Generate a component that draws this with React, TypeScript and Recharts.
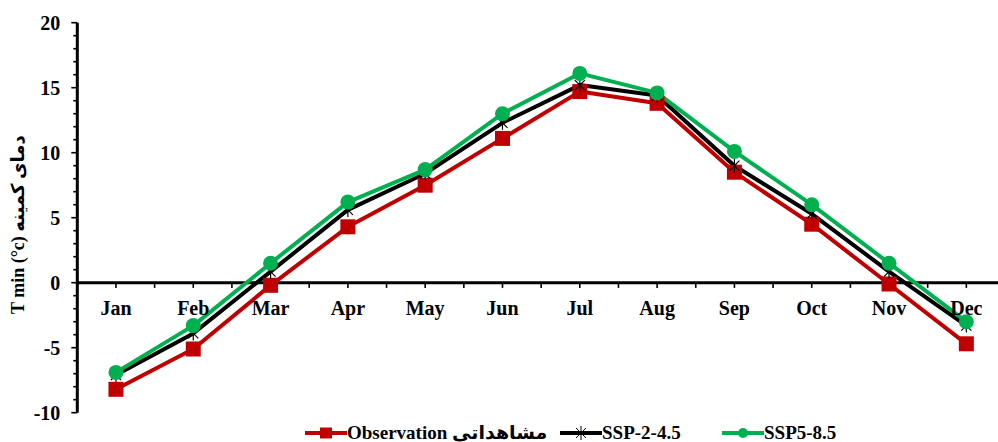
import React from 'react';
import { LineChart, Line, XAxis, YAxis, ReferenceLine, ReferenceDot, Legend } from 'recharts';

const months = ['Jan', 'Feb', 'Mar', 'Apr', 'May', 'Jun', 'Jul', 'Aug', 'Sep', 'Oct', 'Nov', 'Dec'];
const observation = [-8.2, -5.1, -0.2, 4.3, 7.5, 11.1, 14.7, 13.8, 8.5, 4.5, -0.1, -4.7];
const ssp245 = [-7.1, -3.9, 0.85, 5.6, 8.4, 12.3, 15.2, 14.4, 9.0, 5.3, 0.85, -3.3];
const ssp585 = [-6.9, -3.3, 1.5, 6.2, 8.7, 13.0, 16.1, 14.6, 10.1, 6.0, 1.5, -3.0];

const yAllTicks = [-10, -9, -8, -7, -6, -5, -4, -3, -2, -1, 0, 1, 2, 3, 4, 5, 6, 7, 8, 9, 10, 11, 12, 13, 14, 15, 16, 17, 18, 19, 20];
const xTickPositions = [-0.5, 0, 0.5, 1, 1.5, 2, 2.5, 3, 3.5, 4, 4.5, 5, 5.5, 6, 6.5, 7, 7.5, 8, 8.5, 9, 9.5, 10, 10.5, 11, 11.5];

const seriesNames = ['Observation مشاهداتی', 'SSP-2-4.5', 'SSP5-8.5'];
const seriesColors = ['#C00000', '#000000', '#00B050'];
const yAxisTitle = 'T min (°c) دمای کمینه';

const data = months.map((m, i) => ({
  idx: i,
  month: m,
  obs: observation[i],
  ssp245: ssp245[i],
  ssp585: ssp585[i],
}));

const FONT = "'Liberation Serif', 'Times New Roman', 'DejaVu Sans', serif";

const YTick = (props: any) => {
  const { x, y, payload } = props;
  const ax = x + 6;
  const v = Number(payload.value);
  const major = v % 5 === 0;
  return (
    <g>
      <line x1={ax - (major ? 6 : 4)} x2={ax} y1={y} y2={y} stroke="#000" strokeWidth={1.6} />
      {major && (
        <text x={ax - 17} y={y} dy="0.36em" textAnchor="end" fontFamily={FONT} fontWeight="bold" fontSize={20} fill="#000">
          {v}
        </text>
      )}
    </g>
  );
};

const YLabel = (props: any) => {
  const vb = props.viewBox || { x: 0, y: 0, width: 0, height: 0 };
  const cx = 18;
  const cy = vb.y + vb.height / 2 + 7;
  return (
    <text
      x={cx}
      y={cy}
      transform={`rotate(-90 ${cx} ${cy})`}
      textAnchor="middle"
      dominantBaseline="central"
      fontFamily={FONT}
      fontWeight="bold"
      fontSize={18}
      fill="#000"
    >
      {yAxisTitle}
    </text>
  );
};

const SquareDot = (p: any) => (
  <rect key={`sq-${p.index}`} x={p.cx - 7.5} y={p.cy - 7.5} width={15} height={15} fill="#C00000" />
);

const StarDot = (p: any) => {
  const s = 7;
  const d = s * 0.72;
  return (
    <g key={`st-${p.index}`} stroke="#000" strokeWidth={1.2}>
      <line x1={p.cx} y1={p.cy - s} x2={p.cx} y2={p.cy + s} />
      <line x1={p.cx - d} y1={p.cy - d} x2={p.cx + d} y2={p.cy + d} />
      <line x1={p.cx - d} y1={p.cy + d} x2={p.cx + d} y2={p.cy - d} />
    </g>
  );
};

const CircleDot = (p: any) => (
  <circle key={`ci-${p.index}`} cx={p.cx} cy={p.cy} r={7.5} fill="#00B050" />
);

const legendLefts = [305, 560, 722];

const LegendIcon = ({ i, color }: { i: number; color: string }) => (
  <svg width={42} height={24} style={{ display: 'block' }}>
    <line x1={0} y1={12} x2={42} y2={12} stroke={color} strokeWidth={4} />
    {i === 0 && <rect x={15} y={6.5} width={12} height={11} fill={color} />}
    {i === 1 && (
      <g stroke="#000" strokeWidth={1}>
        <line x1={21} y1={5} x2={21} y2={19} />
        <line x1={16} y1={7} x2={26} y2={17} />
        <line x1={16} y1={17} x2={26} y2={7} />
      </g>
    )}
    {i === 2 && <circle cx={21} cy={12} r={5} fill={color} />}
  </svg>
);

const LegendContent = (props: any) => {
  const payload = props.payload || [];
  return (
    <div style={{ position: 'relative', width: 998, height: 24 }}>
      {payload.map((entry: any, i: number) => (
        <div
          key={`leg-${i}`}
          style={{
            position: 'absolute',
            left: legendLefts[i],
            top: 0,
            height: 24,
            display: 'flex',
            alignItems: 'center',
            whiteSpace: 'nowrap',
          }}
        >
          <LegendIcon i={i} color={entry.color} />
          <span style={{ fontFamily: FONT, fontWeight: 'bold', fontSize: 19, color: '#000', lineHeight: '24px' }}>
            {entry.value}
          </span>
        </div>
      ))}
    </div>
  );
};

export default function App() {
  return (
    <div style={{ position: 'fixed', left: 0, top: 0, width: 998, height: 442, overflow: 'hidden', background: '#fff' }}>
      <LineChart width={1010} height={442} data={data} margin={{ top: 22.7, right: 5, bottom: 5.3, left: 0 }}>
        <XAxis type="number" dataKey="idx" domain={[-0.5, 11.5]} hide />
        <YAxis
          type="number"
          domain={[-10, 20]}
          ticks={yAllTicks}
          interval={0}
          width={77.3}
          tickSize={6}
          tickMargin={0}
          tickLine={false}
          axisLine={{ stroke: '#000', strokeWidth: 3 }}
          tick={YTick}
          label={YLabel}
        />
        <ReferenceLine y={0} stroke="#000" strokeWidth={3} />
        {xTickPositions.map((t) => (
          <ReferenceLine
            key={`xt-${t}`}
            segment={[{ x: t, y: 0 }, { x: t, y: -0.4 }]}
            stroke="#000"
            strokeWidth={1.6}
          />
        ))}
        {months.map((m, i) => (
          <ReferenceDot
            key={`ml-${m}`}
            x={i}
            y={0}
            r={0}
            shape={(p: any) => (
              <text x={p.cx} y={p.cy + 32.3} textAnchor="middle" fontFamily={FONT} fontWeight="bold" fontSize={20} fill="#000">
                {m}
              </text>
            )}
          />
        ))}
        <Line
          dataKey="obs"
          name={seriesNames[0]}
          stroke={seriesColors[0]}
          strokeWidth={4}
          strokeLinejoin="round"
          dot={SquareDot}
          activeDot={false}
          isAnimationActive={false}
        />
        <Line
          dataKey="ssp245"
          name={seriesNames[1]}
          stroke={seriesColors[1]}
          strokeWidth={4}
          strokeLinejoin="round"
          dot={StarDot}
          activeDot={false}
          isAnimationActive={false}
        />
        <Line
          dataKey="ssp585"
          name={seriesNames[2]}
          stroke={seriesColors[2]}
          strokeWidth={4}
          strokeLinejoin="round"
          dot={CircleDot}
          activeDot={false}
          isAnimationActive={false}
        />
        <Legend
          verticalAlign="bottom"
          wrapperStyle={{ left: 0, bottom: -3, width: 998, height: 24 }}
          content={LegendContent}
        />
      </LineChart>
    </div>
  );
}
